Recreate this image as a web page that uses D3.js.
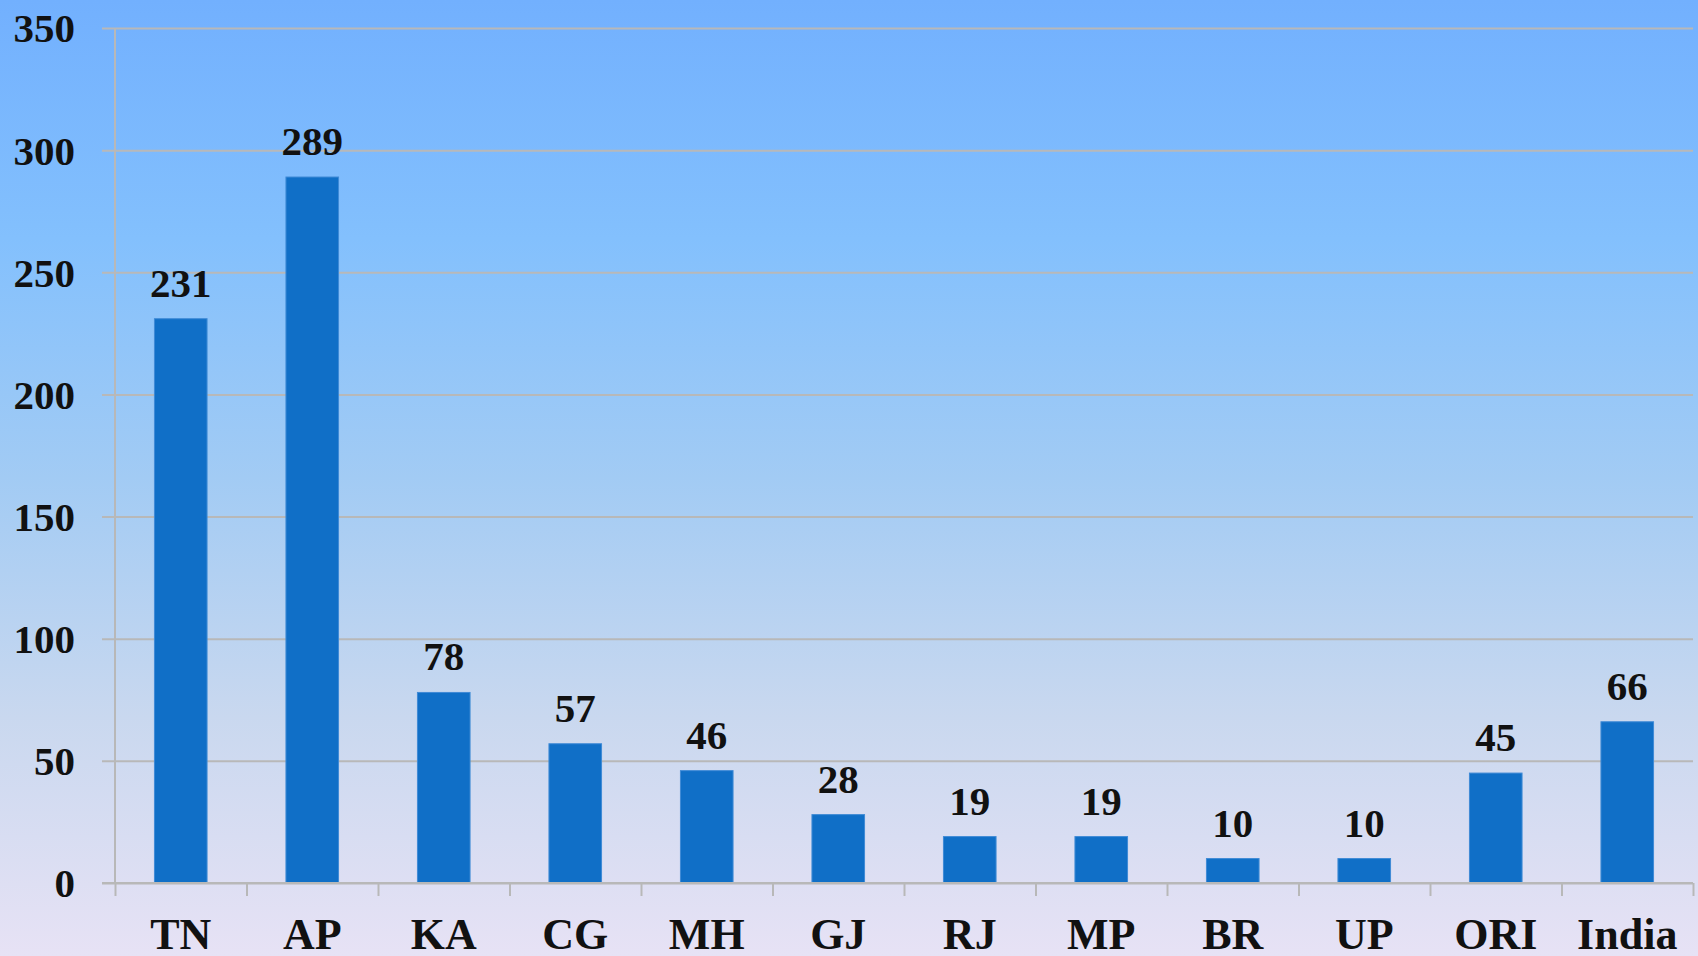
<!DOCTYPE html>
<html>
<head>
<meta charset="utf-8">
<script src="https://cdn.jsdelivr.net/npm/d3@7"></script>
<style>
  html, body { margin: 0; padding: 0; }
  body { width: 1698px; height: 956px; overflow: hidden; }
  text { font-family: "Liberation Serif", "DejaVu Serif", serif; fill: #111; }
</style>
</head>
<body>
<svg id="chart" width="1698" height="956"></svg>
<script>
const states = ["TN", "AP", "KA", "CG", "MH", "GJ", "RJ", "MP", "BR", "UP", "ORI", "India"]
const values = [231, 289, 78, 57, 46, 28, 19, 19, 10, 10, 45, 66]
const yTicks = [0, 50, 100, 150, 200, 250, 300, 350]

const width = 1698
const height = 956
const margin = { top: 28, right: 5, bottom: 73, left: 115 }
const innerWidth = width - margin.left - margin.right
const innerHeight = height - margin.top - margin.bottom

const svg = d3.select("#chart")

// background gradient
const defs = svg.append("defs")
const grad = defs.append("linearGradient")
  .attr("id", "bg")
  .attr("x1", 0).attr("y1", 0).attr("x2", 0).attr("y2", 1)
grad.selectAll("stop")
  .data([
    ["0%", "#72b0fe"],
    ["25%", "#83c0fd"],
    ["50%", "#a2cbf4"],
    ["75%", "#c9d8ef"],
    ["100%", "#e7e2f5"]
  ])
  .join("stop")
  .attr("offset", d => d[0])
  .attr("stop-color", d => d[1])

svg.append("rect")
  .attr("width", width)
  .attr("height", height)
  .attr("fill", "url(#bg)")

const g = svg.append("g")
  .attr("transform", `translate(${margin.left},${margin.top})`)

const xScale = d3.scaleBand()
  .domain(states)
  .range([0, innerWidth])
  .paddingInner(0.6)
  .paddingOuter(0.3)

const yScale = d3.scaleLinear()
  .domain([0, 350])
  .range([innerHeight, 0])

// gridlines + y labels
const yAxis = g.append("g")
  .call(d3.axisLeft(yScale)
    .tickValues(yTicks)
    .tickSize(-(innerWidth + 13))
    .tickPadding(40))
yAxis.select(".domain").remove()
yAxis.selectAll(".tick line")
  .attr("x1", -13)
  .attr("x2", innerWidth)
  .attr("stroke", "#b8b8b8")
  .attr("stroke-width", 2)
yAxis.selectAll(".tick text")
  .attr("x", -40)
  .attr("dy", "0.34em")
  .style("font-size", "41px")
  .style("font-weight", "bold")
  .attr("fill", "#111")

// vertical axis line
g.append("line")
  .attr("x1", 0).attr("x2", 0)
  .attr("y1", 0).attr("y2", innerHeight)
  .attr("stroke", "#b8b8b8")
  .attr("stroke-width", 2)

// bars
g.append("g")
  .selectAll("rect")
  .data(values)
  .join("rect")
  .attr("x", (d, i) => xScale(states[i]))
  .attr("y", d => yScale(d))
  .attr("width", xScale.bandwidth())
  .attr("height", d => innerHeight - yScale(d))
  .attr("fill", "#106fc7")
  .attr("stroke", "#3f8ad6")
  .attr("stroke-width", 1)

// value labels
g.append("g")
  .selectAll("text")
  .data(values)
  .join("text")
  .attr("x", (d, i) => xScale(states[i]) + xScale.bandwidth() / 2)
  .attr("y", d => yScale(d) - 22)
  .attr("text-anchor", "middle")
  .style("font-size", "41px")
  .style("font-weight", "bold")
  .text(d => d)

// x axis with boundary ticks
const boundary = d3.scaleLinear().domain([0, states.length]).range([0, innerWidth])
const xAxis = g.append("g")
  .attr("transform", `translate(0,${innerHeight})`)
  .call(d3.axisBottom(boundary)
    .tickValues(d3.range(states.length + 1))
    .tickFormat("")
    .tickSize(13)
    .tickSizeOuter(0))
xAxis.select(".domain")
  .attr("stroke", "#b8b8b8")
  .attr("stroke-width", 2)
  .attr("d", `M-13,0H${innerWidth}`)
xAxis.selectAll(".tick line")
  .attr("stroke", "#b8b8b8")
  .attr("stroke-width", 2)

// category labels
g.append("g")
  .selectAll("text")
  .data(states)
  .join("text")
  .attr("x", d => xScale(d) + xScale.bandwidth() / 2)
  .attr("y", innerHeight + 66)
  .attr("text-anchor", "middle")
  .style("font-size", "44px")
  .style("font-weight", "bold")
  .text(d => d)
</script>
</body>
</html>
